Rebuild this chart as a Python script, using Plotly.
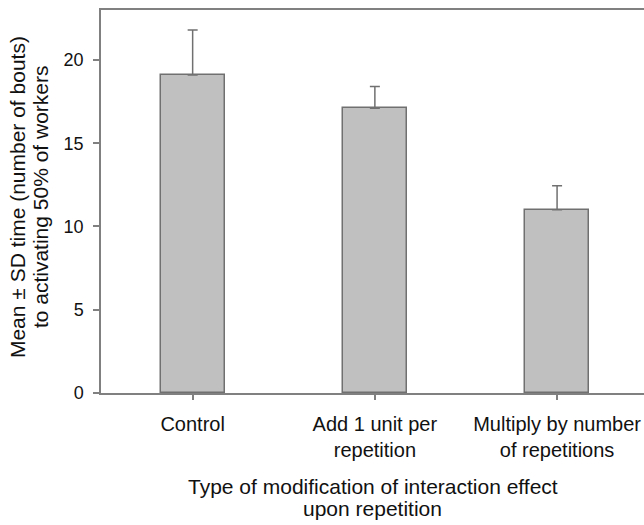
import plotly.graph_objects as go

categories = ["Control", "Add 1 unit per<br>repetition", "Multiply by number<br>of repetitions"]
means = [19.1, 17.1, 11.0]
sd_upper = [2.7, 1.3, 1.45]
y_ticks = [0, 5, 10, 15, 20]

x_title_lines = ["Type of modification of interaction effect", "upon repetition"]
y_title_lines = ["Mean ± SD time (number of bouts)", "to activating 50% of workers"]

W, H = 644, 525
ML, MR, MT, MB = 101, 0, 9.5, 131.7
FONT = "Liberation Sans, Arial, sans-serif"
TXT = "#111111"
GRAY = "#808080"
BARLINE = "#707070"

xpos = list(range(len(categories)))

fig = go.Figure()
fig.add_trace(go.Bar(
    x=xpos, y=means, width=0.35,
    marker=dict(color="#c0c0c0", line=dict(color=BARLINE, width=1.5)),
    error_y=dict(type="data", symmetric=False, array=sd_upper,
                 arrayminus=[0] * len(means), color=BARLINE, thickness=1.5, width=5),
    showlegend=False,
))

annotations = []
for t, py in zip(x_title_lines, [487, 509]):
    annotations.append(dict(text=t, xref="paper", yref="paper", x=0.5, y=0,
                            xanchor="center", yanchor="middle", showarrow=False,
                            yshift=(H - MB) - py, font=dict(family=FONT, size=21, color=TXT)))
for t, px in zip(y_title_lines, [17, 40]):
    annotations.append(dict(text=t, xref="paper", yref="paper", x=0, y=0.5,
                            xanchor="center", yanchor="middle", showarrow=False, textangle=-90,
                            xshift=px - ML, yshift=-(197 - (MT + (H - MB)) / 2),
                            font=dict(family=FONT, size=21, color=TXT)))

fig.update_layout(
    width=W, height=H,
    margin=dict(l=ML, r=MR, t=MT, b=MB, pad=0),
    paper_bgcolor="white", plot_bgcolor="white",
    font=dict(family=FONT, color=TXT),
    annotations=annotations,
    bargap=0,
)
fig.update_xaxes(
    range=[-0.503, 2.477], tickmode="array", tickvals=xpos, ticktext=categories,
    showline=True, linecolor=GRAY, linewidth=1.5, mirror=True,
    ticks="outside", ticklen=5, tickcolor=GRAY, tickwidth=1.5, ticklabelstandoff=7,
    tickfont=dict(family=FONT, size=20, color=TXT), showgrid=False, zeroline=False,
)
fig.update_yaxes(
    range=[0, 23], tickmode="array", tickvals=y_ticks,
    showline=True, linecolor=GRAY, linewidth=1.5, mirror=False,
    ticks="outside", ticklen=6, tickcolor=GRAY, tickwidth=1.5, ticklabelstandoff=6,
    tickfont=dict(family=FONT, size=18, color=TXT), showgrid=False, zeroline=False,
)

fig.write_html("out.html")
